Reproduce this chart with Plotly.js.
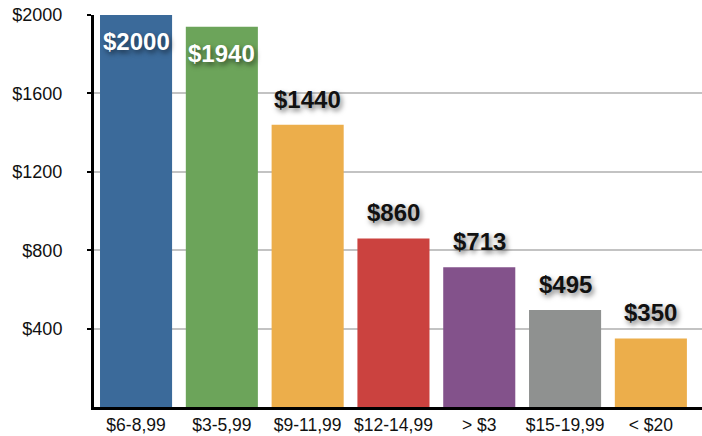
<!DOCTYPE html>
<html>
<head>
<meta charset="utf-8">
<script src="https://cdn.plot.ly/plotly-3.0.1.min.js"></script>
<style>html,body{margin:0;padding:0;background:#fff;}#chart{width:702px;height:436px;}</style>
</head>
<body>
<div id="chart"></div>
<script>
const categories = ["$6-8,99", "$3-5,99", "$9-11,99", "$12-14,99", "> $3", "$15-19,99", "< $20"];
const values = [2000, 1940, 1440, 860, 713, 495, 350];
const labels = ["$2000", "$1940", "$1440", "$860", "$713", "$495", "$350"];
const colors = ["#3b6a9a", "#6ca45a", "#ecae4b", "#cb423f", "#83528b", "#8f9190", "#ecae4b"];
const labelInside = [true, true, false, false, false, false, false];
const yTicks = [400, 800, 1200, 1600, 2000];
const yTickText = ["$400", "$800", "$1200", "$1600", "$2000"];

const annotations = categories.map((c, i) => ({
  x: c, y: values[i], xref: 'x', yref: 'y',
  text: '<b>' + labels[i] + '</b>', showarrow: false,
  yanchor: labelInside[i] ? 'top' : 'bottom',
  yshift: labelInside[i] ? -11 : 10,
  font: {family: 'Liberation Sans, Arial, sans-serif', size: 24,
         color: labelInside[i] ? '#ffffff' : '#111111',
         shadow: '2px 3px 5px rgba(0,0,0,0.5)'}
}));

Plotly.newPlot('chart', [{
  type: 'bar', x: categories, y: values,
  marker: {color: colors, line: {width: 0}},
  hoverinfo: 'none'
}], {
  width: 702, height: 436,
  margin: {l: 94, r: 0, t: 15, b: 29, pad: 0},
  paper_bgcolor: '#fff', plot_bgcolor: '#fff',
  bargap: 0.16,
  showlegend: false,
  font: {family: 'Liberation Sans, Arial, sans-serif', size: 18, color: '#111'},
  xaxis: {type: 'category', range: [-0.49, 6.596], showgrid: false,
          showline: true, linecolor: '#000', linewidth: 3, ticks: '',
          ticklabelstandoff: 0,
          tickfont: {size: 17.5}, fixedrange: true},
  yaxis: {range: [0, 2000], tickvals: yTicks, ticktext: yTickText,
          showgrid: true, gridcolor: '#c3c3c3', gridwidth: 2,
          showline: true, linecolor: '#000', linewidth: 3,
          ticks: 'outside', ticklen: 4, tickwidth: 2, tickcolor: '#000',
          ticklabelstandoff: 21, zeroline: false,
          tickfont: {size: 18}, fixedrange: true},
  annotations: annotations
}, {displayModeBar: false, staticPlot: true});
</script>
</body>
</html>
